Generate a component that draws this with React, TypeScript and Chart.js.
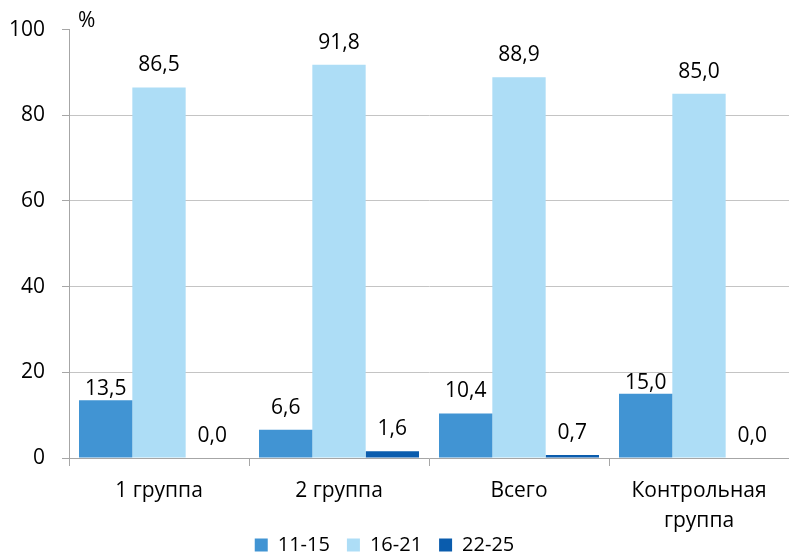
import React, { useEffect, useRef } from "react";
import { Chart, registerables } from "chart.js";

Chart.register(...registerables);

const categories: (string | string[])[] = ["1 группа", "2 группа", "Всего", ["Контрольная", "группа"]];
const seriesNames = ["11-15", "16-21", "22-25"];
const values1115 = [13.5, 6.6, 10.4, 15.0];
const values1621 = [86.5, 91.8, 88.9, 85.0];
const values2225 = [0.0, 1.6, 0.7, 0.0];
const yTicks = [0, 20, 40, 60, 80, 100];

const COLORS = ["#4194D3", "#ADDDF6", "#0A5CAD"];
const FONT = '"Open Sans", "Noto Sans", sans-serif';

// labels that sit closer to their bar (dataset index -> category indices)
const nearLabels: Record<number, number[]> = { 0: [0, 3] };

const barLabelPlugin = {
  id: "barLabels",
  afterDatasetsDraw(chart: any) {
    const ctx = chart.ctx;
    ctx.save();
    ctx.font = `21px ${FONT}`;
    ctx.fillStyle = "#000";
    ctx.textAlign = "center";
    ctx.textBaseline = "alphabetic";
    chart.data.datasets.forEach((ds: any, di: number) => {
      const meta = chart.getDatasetMeta(di);
      meta.data.forEach((bar: any, i: number) => {
        const v = ds.data[i] as number;
        const near = (nearLabels[di] || []).includes(i);
        const gap = near ? 5 : 16;
        ctx.fillText(v.toFixed(1).replace(".", ","), bar.x, bar.y - gap);
      });
    });
    // unit sign
    ctx.textAlign = "left";
    ctx.fillText("%", chart.chartArea.left + 9, chart.chartArea.top - 3);
    ctx.restore();
  },
};

const layoutTweakPlugin = {
  id: "layoutTweak",
  afterLayout(chart: any) {
    const lg = chart.legend;
    if (lg) {
      lg.top += 9;
      lg.bottom += 9;
      lg.left -= 10;
      lg.right -= 10;
    }
    const xs = chart.scales.x;
    if (xs) {
      // let the two-line category label extend below the axis box (no clipping)
      xs.bottom = chart.height;
    }
  },
};

export default function App() {
  const ref = useRef<HTMLCanvasElement | null>(null);

  useEffect(() => {
    if (!ref.current) return;
    const chart = new Chart(ref.current, {
      type: "bar",
      data: {
        labels: categories as any,
        datasets: [
          { label: seriesNames[0], data: values1115, backgroundColor: COLORS[0], borderWidth: 0 },
          { label: seriesNames[1], data: values1621, backgroundColor: COLORS[1], borderWidth: 0 },
          { label: seriesNames[2], data: values2225, backgroundColor: COLORS[2], borderWidth: 0 },
        ],
      },
      options: {
        responsive: false,
        animation: false,
        layout: { padding: { top: 28, left: 0, right: 0, bottom: 0 } },
        datasets: {
          bar: { categoryPercentage: 160 / 180, barPercentage: 1 },
        },
        scales: {
          x: {
            grid: {
              offset: true,
              drawOnChartArea: false,
              drawTicks: true,
              tickLength: 8,
              color: "#a6a6a6",
            },
            border: { color: "#a6a6a6", width: 1 },
            ticks: {
              color: "#000",
              padding: 10,
              font: { family: FONT, size: 21, lineHeight: 1.43 },
              maxRotation: 0,
              autoSkip: false,
            },
            afterFit(scale: any) {
              scale.height = 51;
            },
          },
          y: {
            min: 0,
            max: 100,
            afterBuildTicks(scale: any) {
              scale.ticks = yTicks.map((v) => ({ value: v }));
            },
            grid: {
              color: (c: any) => (c.tick && c.tick.value === 100 ? "rgba(0,0,0,0)" : "#c4c4c4"),
              tickColor: "#a6a6a6",
              tickLength: 7,
            },
            border: { color: "#a6a6a6", width: 1 },
            ticks: {
              color: "#000",
              padding: 17,
              font: { family: FONT, size: 21 },
            },
            afterFit(scale: any) {
              scale.width = 69;
            },
          },
        },
        plugins: {
          legend: {
            position: "bottom",
            labels: {
              boxWidth: 13,
              boxHeight: 13,
              padding: 17,
              color: "#000",
              font: { family: FONT, size: 20 },
            },
          },
          tooltip: { enabled: false },
        },
      },
      plugins: [barLabelPlugin, layoutTweakPlugin],
    });
    return () => chart.destroy();
  }, []);

  return (
    <div style={{ position: "absolute", left: 0, top: 0, width: 789, height: 556 }}>
      <canvas ref={ref} width={789} height={556} style={{ display: "block" }} />
    </div>
  );
}
